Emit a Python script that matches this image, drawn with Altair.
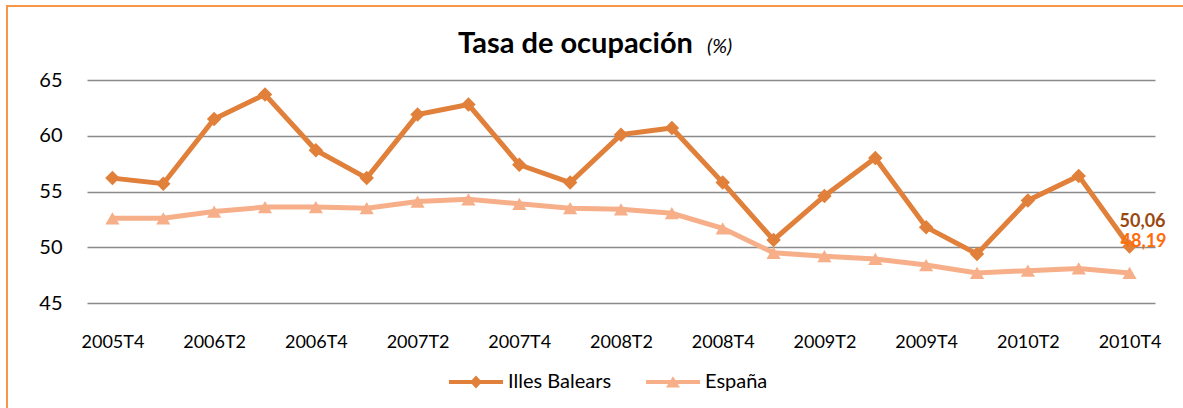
import altair as alt
import pandas as pd

quarters = ["2005T4", "2006T1", "2006T2", "2006T3", "2006T4",
            "2007T1", "2007T2", "2007T3", "2007T4",
            "2008T1", "2008T2", "2008T3", "2008T4",
            "2009T1", "2009T2", "2009T3", "2009T4",
            "2010T1", "2010T2", "2010T3", "2010T4"]
illes = [56.2, 55.7, 61.5, 63.7, 58.7, 56.2, 61.9, 62.8, 57.4, 55.8, 60.1,
         60.7, 55.8, 50.65, 54.6, 58.0, 51.8, 49.4, 54.2, 56.4, 50.06]
espana = [52.6, 52.6, 53.2, 53.6, 53.6, 53.5, 54.1, 54.3, 53.9, 53.5, 53.4,
          53.05, 51.7, 49.5, 49.2, 48.95, 48.4, 47.7, 47.9, 48.1, 47.7]
series_names = ["Illes Balears", "España"]
label_text = ["50,06", "48,19"]
label_values = [50.06, 48.19]
y_ticks = [45, 50, 55, 60, 65]
x_ticks = quarters[::2]

C_ILLES = "#E0803A"
C_ESP = "#F6AF89"
FONT = "Lato"

df = pd.DataFrame({
    "quarter": quarters * 2,
    "series": [series_names[0]] * len(quarters) + [series_names[1]] * len(quarters),
    "value": illes + espana,
})
df_i = df[df.series == series_names[0]]
df_e = df[df.series == series_names[1]]

x_enc = alt.X("quarter:O", sort=quarters,
              scale=alt.Scale(type="point", padding=0.5, domain=quarters),
              axis=alt.Axis(values=x_ticks, labelAngle=0, title=None, domain=False,
                            ticks=False, grid=False, labelFont=FONT, labelFontSize=18,
                            labelColor="#000000", labelPadding=30))
y_enc = alt.Y("value:Q", scale=alt.Scale(domain=[45, 65], nice=False, zero=False),
              axis=alt.Axis(values=y_ticks, title=None, domain=False, ticks=False,
                            grid=True, gridColor="#8a8a8a", gridWidth=1.5,
                            labelFont=FONT, labelFontSize=20, labelColor="#000000",
                            labelPadding=25))

line_i = alt.Chart(df_i).mark_line(color=C_ILLES, strokeWidth=5).encode(x=x_enc, y=y_enc)
line_e = alt.Chart(df_e).mark_line(color=C_ESP, strokeWidth=5).encode(x=x_enc, y=y_enc)
pts_i = alt.Chart(df_i).mark_point(shape="diamond", filled=True, color=C_ILLES,
                                   size=210, opacity=1).encode(x=x_enc, y=y_enc)
pts_e = alt.Chart(df_e).mark_point(shape="triangle-up", filled=True, color=C_ESP,
                                   size=200, opacity=1).encode(x=x_enc, y=y_enc)

path_i = "M-1,-0.074H1V0.074H-1Z M0,-0.24L0.22,0L0,0.24L-0.22,0Z"
path_e = "M-1,-0.074H1V0.074H-1Z M0,-0.21L0.26,0.2L-0.26,0.2Z"
leg = alt.Legend(title=None, orient="none", legendX=362, legendY=275, direction="horizontal",
                 symbolSize=2916, symbolOpacity=1, symbolStrokeWidth=0,
                 labelFont=FONT, labelFontSize=20, labelColor="#000000",
                 labelOffset=5, columnPadding=34, padding=0)
legend_layer = alt.Chart(df).mark_point(filled=True, opacity=0).encode(
    x=x_enc, y=y_enc,
    color=alt.Color("series:N", scale=alt.Scale(domain=series_names, range=[C_ILLES, C_ESP]), legend=leg),
    shape=alt.Shape("series:N", scale=alt.Scale(domain=series_names, range=[path_i, path_e]), legend=leg),
)

lab_df_i = pd.DataFrame({"quarter": [quarters[-1]], "value": [label_values[0]], "txt": [label_text[0]]})
lab_df_e = pd.DataFrame({"quarter": [quarters[-1]], "value": [label_values[1]], "txt": [label_text[1]]})
lab_i = alt.Chart(lab_df_i).mark_text(font=FONT, fontSize=18, fontWeight="bold", color="#9A4810",
                                      dx=13, dy=-25, baseline="middle", align="center").encode(
    x=x_enc, y=y_enc, text="txt:N")
lab_e = alt.Chart(lab_df_e).mark_text(font=FONT, fontSize=18, fontWeight="bold", color="#FF6C0A",
                                      dx=14, dy=-25, baseline="middle", align="center").encode(
    x=x_enc, y=y_enc, text="txt:N")

title_df = pd.DataFrame({"t": ["Tasa de ocupación"], "u": ["(%)"]})
title_main = alt.Chart(title_df).mark_text(font=FONT, fontSize=29, fontWeight="bold", color="#000000",
                                           align="left", baseline="alphabetic").encode(
    x=alt.value(371), y=alt.value(-27), text="t:N")
title_unit = alt.Chart(title_df).mark_text(font=FONT, fontSize=20, fontStyle="italic", color="#000000",
                                           align="left", baseline="alphabetic").encode(
    x=alt.value(620), y=alt.value(-27), text="u:N")

border = alt.Chart(title_df).mark_rect(fill="transparent", stroke="#F79646", strokeWidth=2).encode(
    x=alt.value(-80), x2=alt.value(1200), y=alt.value(-74), y2=alt.value(420))

chart = alt.layer(
    border, line_e, line_i, pts_e, pts_i, legend_layer, lab_i, lab_e, title_main, title_unit
).properties(
    width=1068, height=223,
    autosize=alt.AutoSizeParams(type="none"),
    padding={"left": 87, "top": 80, "right": 28, "bottom": 105},
    background="white",
).configure_view(stroke=None)

chart.save("out.html", embed_options={"renderer": "svg", "actions": False})
